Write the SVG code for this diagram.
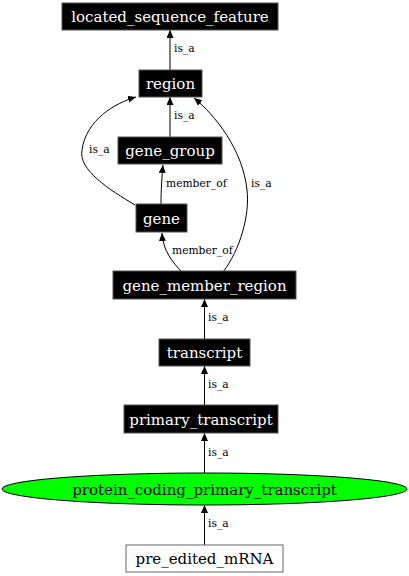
<svg xmlns="http://www.w3.org/2000/svg" width="409" height="576" viewBox="0 0 409 576">
<style>
.blk rect{fill:#000;stroke:#555;stroke-width:1}
.nl{font-family:"DejaVu Serif",serif;font-size:15px;text-anchor:middle}
.w{fill:#fff}
.el{font-family:"DejaVu Serif",serif;font-size:10.7px;fill:#000}
.edge{fill:none;stroke:#000;stroke-width:1;marker-end:url(#arr)}
</style>
<defs>
<marker id="arr" markerUnits="userSpaceOnUse" markerWidth="10" markerHeight="8" refX="8" refY="3.5" orient="auto">
<path d="M0,0 L8,3.5 L0,7 z" fill="#000"/>
</marker>
</defs>
<rect width="409" height="576" fill="#fff"/>
<g id="connectors">
<path class="edge" d="M170,70 L170,30"/>
<path class="edge" d="M170,137 L170,97"/>
<path class="edge" d="M135,205 C110,190 78,170 82,150 C86,120 115,103 136,97"/>
<path class="edge" d="M161,204 C161,190 162,175 163,165"/>
<path class="edge" d="M182,272 C172,262 163,250 162,233"/>
<path class="edge" d="M223,272 C240,250 250,215 247,190 C243,150 215,115 194,98"/>
<path class="edge" d="M204.5,339 L204.5,299"/>
<path class="edge" d="M204.5,405 L204.5,366"/>
<path class="edge" d="M204.5,473 L204.5,433"/>
<path class="edge" d="M204.5,545 L204.5,505"/>
<text class="el" x="174" y="52">is_a</text>
<text class="el" x="174" y="119">is_a</text>
<text class="el" x="89" y="153">is_a</text>
<text class="el" x="166" y="187">member_of</text>
<text class="el" x="251" y="187">is_a</text>
<text class="el" x="172" y="254">member_of</text>
<text class="el" x="208" y="321">is_a</text>
<text class="el" x="208" y="388">is_a</text>
<text class="el" x="208" y="456">is_a</text>
<text class="el" x="208" y="527">is_a</text>
</g>
<g id="located_sequence_feature" class="blk">
<rect x="62" y="3" width="216" height="27"/>
<text class="nl w" x="170" y="22">located_sequence_feature</text>
</g>
<g id="region" class="blk">
<rect x="139" y="70" width="63" height="27"/>
<text class="nl w" x="170.5" y="89">region</text>
</g>
<g id="gene_group" class="blk">
<rect x="118" y="137" width="104" height="27"/>
<text class="nl w" x="170" y="156">gene_group</text>
</g>
<g id="gene" class="blk">
<rect x="136" y="204" width="51" height="28"/>
<text class="nl w" x="161.5" y="223.5">gene</text>
</g>
<g id="gene_member_region" class="blk">
<rect x="113" y="271" width="183" height="28"/>
<text class="nl w" x="204.5" y="290.5">gene_member_region</text>
</g>
<g id="transcript" class="blk">
<rect x="159" y="339" width="91" height="27"/>
<text class="nl w" x="204.5" y="358">transcript</text>
</g>
<g id="primary_transcript" class="blk">
<rect x="124" y="405" width="154" height="28"/>
<text class="nl w" x="201" y="424.5">primary_transcript</text>
</g>
<g id="protein_coding_primary_transcript">
<ellipse cx="204.5" cy="489" rx="202.5" ry="16" fill="#00ff00" stroke="#000"/>
<text class="nl" x="204.5" y="494.5">protein_coding_primary_transcript</text>
</g>
<g id="pre_edited_mRNA">
<rect x="126" y="545" width="157" height="27" fill="#fff" stroke="#666"/>
<text class="nl" x="204.5" y="564">pre_edited_mRNA</text>
</g>
</svg>
